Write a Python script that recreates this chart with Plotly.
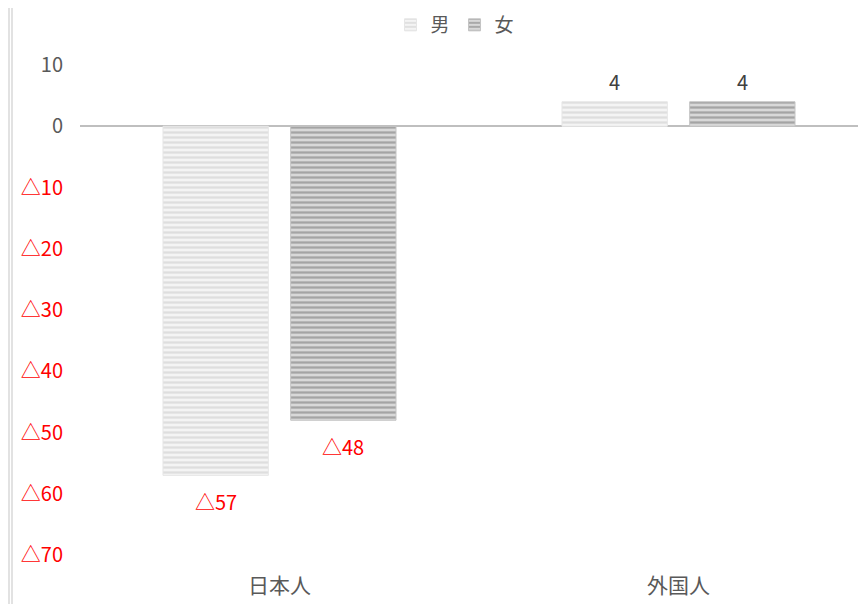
import plotly.graph_objects as go

categories = ["日本人", "外国人"]
male = [-57, 4]
female = [-48, 4]
series_names = ["男", "女"]
tick_vals = [10, 0, -10, -20, -30, -40, -50, -60, -70]

def fmt(v):
    return "△" + str(abs(v)) if v < 0 else str(v)

def tick_text(v):
    if v < 0:
        return '<span style="color:#FF0000">' + fmt(v) + "</span>"
    return fmt(v)

FONT = "Noto Sans CJK JP"
BARGAP = 0.36
BARGROUPGAP = 0.175
W, H = 850, 596
L = 72
PX_PER_CAT = 399
X_END = -0.5 + (W - L) / PX_PER_CAT

fig = go.Figure()
styles = [
    dict(bg="#f4f4f4", fg="#dedede", line="#e6e6e6"),
    dict(bg="#d8d8d8", fg="#a4a4a4", line="#c4c4c4"),
]
for name, vals, st in zip(series_names, [male, female], styles):
    fig.add_trace(go.Bar(
        x=categories, y=vals, name=name,
        marker=dict(color=st["bg"],
                    pattern=dict(shape="-", fgcolor=st["fg"], bgcolor=st["bg"],
                                 size=5, solidity=0.45, fillmode="replace"),
                    line=dict(color=st["line"], width=1)),
    ))

# data labels
half = (1 - BARGAP) / 4
for k, vals in enumerate([male, female]):
    off = -half if k == 0 else half
    for i, v in enumerate(vals):
        fig.add_annotation(
            x=i + off, y=v, xref="x", yref="y", text=fmt(v), showarrow=False,
            yanchor="top" if v < 0 else "bottom",
            yshift=-10 if v < 0 else 4,
            font=dict(size=20, family=FONT, color="#FF0000" if v < 0 else "#404040"),
        )

fig.update_layout(
    width=W, height=H,
    margin=dict(l=L, r=0, t=57, b=H - 547),
    paper_bgcolor="white", plot_bgcolor="white",
    barmode="group", bargap=BARGAP, bargroupgap=BARGROUPGAP,
    font=dict(family=FONT, color="#595959", size=18),
    legend=dict(orientation="h", xref="container", x=447 / W, xanchor="center",
                yref="container", y=1 - 17 / H, yanchor="middle",
                font=dict(size=19, color="#595959"), itemwidth=30),
)
fig.update_xaxes(range=[-0.5, X_END], showgrid=False, showline=False, ticks="",
                 ticklabelstandoff=16, automargin=False,
                 tickfont=dict(size=21, color="#595959"))
fig.update_yaxes(range=[-70, 10], tickvals=tick_vals,
                 ticktext=[tick_text(v) for v in tick_vals], automargin=False,
                 showgrid=False, zeroline=True, zerolinecolor="#bfbfbf", zerolinewidth=2,
                 ticklabelstandoff=16, tickfont=dict(size=20, color="#595959"))

for xp in [1, 4]:
    xx = (xp - L) / (W - L)
    fig.add_shape(type="line", xref="paper", yref="paper", x0=xx, x1=xx,
                  y0=-0.2, y1=1.2, line=dict(color="#d9d9d9", width=1.5))

fig.write_html("out.html")
